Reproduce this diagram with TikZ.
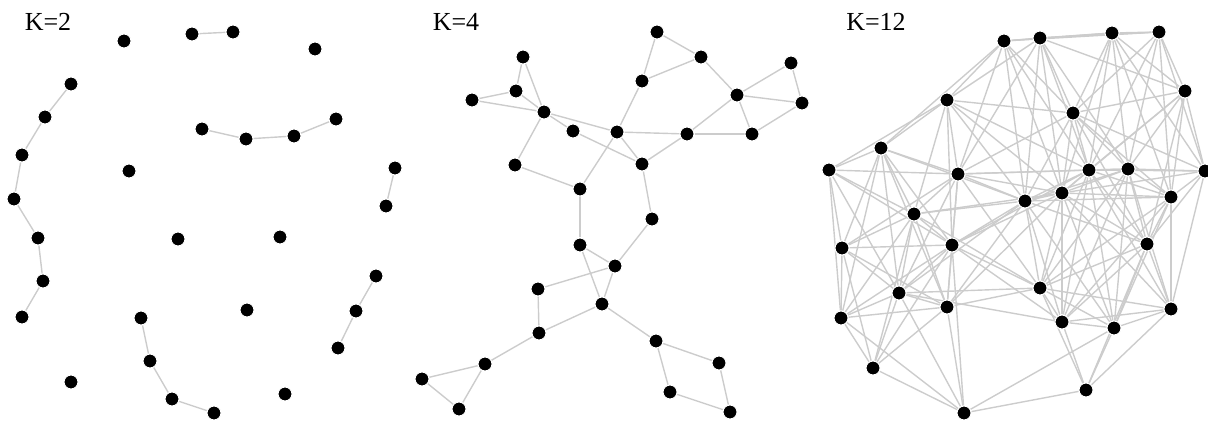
\documentclass[tikz,border=0pt]{standalone}
\usepackage{fontspec}
\setmainfont{Liberation Serif}
\usetikzlibrary{backgrounds}
\definecolor{edgegray}{RGB}{204,204,204}

\begin{document}
\begin{tikzpicture}[x=0.5pt, y=-0.5pt,
    dot/.style={circle, fill=black, draw=white, line width=0.5pt, inner sep=0pt, minimum size=7pt},
    link/.style={draw=edgegray, line width=0.7pt},
    title/.style={font=\fontsize{13}{15}\selectfont}]
    \useasboundingbox (0,0) rectangle (1208,421);
    % Titles
    \node[title] (k2) at (48,22) {K=2};
    \node[title] (k4) at (456,22) {K=4};
    \node[title] (k12) at (876,22) {K=12};
    % K=2 graph
    \foreach \n/\x/\y in {1/124/41, 2/192/34, 3/233/32, 4/315/49, 5/71/84,
        6/45/117, 7/202/129, 8/246/139, 9/294/136, 10/336/119,
        11/22/155, 12/129/171, 13/395/168, 14/14/199, 15/386/206,
        16/38/238, 17/178/239, 18/280/237, 19/43/281, 20/376/276,
        21/22/317, 22/247/310, 23/141/318, 24/356/311, 25/338/348,
        26/150/361, 27/71/382, 28/285/394, 29/172/399, 30/214/413}
        \node[dot] (a\n) at (\x,\y) {};
    \begin{scope}[on background layer]
        \foreach \u/\v in {2/3, 5/6, 6/11, 11/14, 14/16, 16/19, 19/21,
            7/8, 8/9, 9/10, 13/15, 20/24, 24/25, 23/26, 26/29, 29/30}
            \draw[link] (a\u) -- (a\v);
    \end{scope}
    % K=4 graph
    \foreach \n/\x/\y in {1/657/32, 2/523/57, 3/701/57, 4/791/63, 5/642/81,
        6/516/91, 7/472/100, 8/737/95, 9/802/103, 10/544/112,
        11/573/131, 12/617/132, 13/687/134, 14/752/134, 15/515/165,
        16/642/164, 17/580/189, 18/652/219, 19/580/245, 20/615/266,
        21/538/289, 22/602/304, 23/539/333, 24/656/341, 25/485/364,
        26/719/363, 27/422/379, 28/670/392, 29/459/409, 30/730/412}
        \node[dot] (b\n) at (\x,\y) {};
    \begin{scope}[on background layer]
        \foreach \u/\v in {1/3, 1/5, 3/5, 3/8, 4/8, 4/9, 8/9, 8/14, 9/14,
            8/13, 13/14, 12/13, 13/16, 12/16, 5/12, 12/17, 16/18, 18/20,
            17/19, 19/20, 19/22, 20/22, 20/21, 21/23, 22/23, 22/24, 23/25,
            25/27, 25/29, 27/29, 24/26, 24/28, 26/30, 28/30, 2/6, 2/10,
            6/7, 6/10, 7/10, 10/11, 10/12, 11/16, 10/15, 15/17}
            \draw[link] (b\u) -- (b\v);
    \end{scope}
    % K=12 graph: near pairs are linked, except these
    \pgfkeys{/gap/.cd, 23-25/.initial=1, 23-26/.initial=1, 23-29/.initial=1,
        22-30/.initial=1, 25-30/.initial=1}
    \def\cx{{1004,1040,1112,1159,1185,947,1073,881,829,958,1089,1128,1205,1062,1025,
        1171,914,842,952,1147,899,1040,947,841,1062,1114,1171,873,1086,964}}
    \def\cy{{41,38,33,32,91,100,113,148,170,174,170,169,171,193,201,
        197,214,248,245,244,293,288,307,318,322,328,309,368,390,413}}
    \foreach \n in {1,...,30} {
        \pgfmathsetmacro\px{\cx[\n-1]}
        \pgfmathsetmacro\py{\cy[\n-1]}
        \node[dot] (c\n) at (\px,\py) {};
    }
    \begin{scope}[on background layer]
        \foreach \i in {1,...,29} {
            \pgfmathtruncatemacro\k{\i+1}
            \foreach \j in {\k,...,30} {
                \pgfmathsetmacro\d{veclen(\cx[\i-1]-\cx[\j-1],\cy[\i-1]-\cy[\j-1])}
                \pgfkeysifdefined{/gap/\i-\j}{}{%
                    \ifdim\d pt<178pt \draw[link] (c\i) -- (c\j); \fi}
            }
        }
    \end{scope}
\end{tikzpicture}
\end{document}
